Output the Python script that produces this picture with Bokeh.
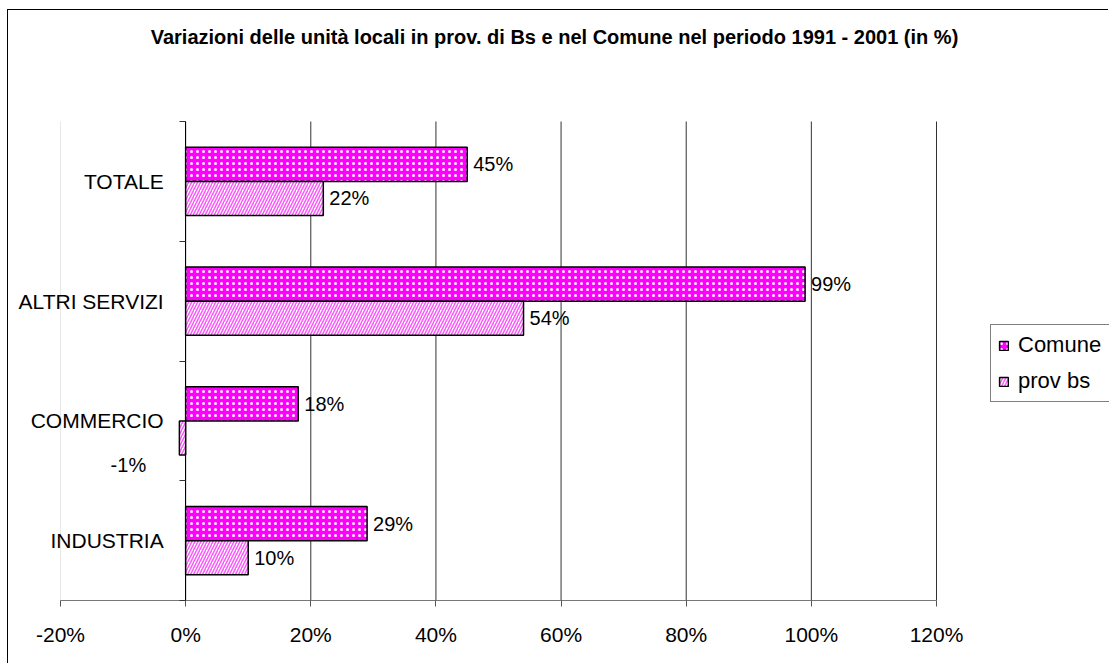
from bokeh.plotting import figure
from bokeh.models import ColumnDataSource, FixedTicker, Legend, LegendItem, Range1d
from bokeh.core.properties import value
from bokeh.embed import file_html
from bokeh.resources import INLINE

# ---- data ----
categories = ["INDUSTRIA", "COMMERCIO", "ALTRI SERVIZI", "TOTALE"]
comune = [29, 18, 99, 45]
prov_bs = [10, -1, 54, 22]
x_ticks = [-20, 0, 20, 40, 60, 80, 100, 120]
x_tick_labels = ["-20%", "0%", "20%", "40%", "60%", "80%", "100%", "120%"]
title_text = "Variazioni delle unità locali in prov. di Bs e nel Comune nel periodo 1991 - 2001 (in %)"

FONT = "Liberation Sans"

# ---- layout (pixels) ----
W, H = 1101, 654                 # canvas size
PLOT_L, PLOT_R = 52, 928         # pixel span of the value axis
PLOT_T, PLOT_B = 111, 590        # pixel span of the category axis
X_MIN, X_MAX = x_ticks[0], x_ticks[-1]
Y_MIN, Y_MAX = -0.5, len(categories) - 0.5
sx = (PLOT_R - PLOT_L) / (X_MAX - X_MIN)
sy = (PLOT_B - PLOT_T) / (Y_MAX - Y_MIN)
x_lo = X_MIN - PLOT_L / sx
x_hi = X_MAX + (W - PLOT_R) / sx
y_hi = Y_MAX + PLOT_T / sy
y_lo = Y_MIN - (H - PLOT_B) / sy

BAR_H = 0.285
pos = list(range(len(categories)))
y_com = [p_ + BAR_H / 2 for p_ in pos]
y_prov = [p_ - BAR_H / 2 for p_ in pos]

p = figure(width=W, height=H, output_backend="svg", toolbar_location=None,
           x_range=Range1d(x_lo, x_hi), y_range=Range1d(y_lo, y_hi),
           min_border=0, min_border_left=0, min_border_right=0,
           min_border_top=0, min_border_bottom=0)
p.title.visible = False
p.styles = {"margin-left": "7px", "margin-top": "9px",
            "border-left": "1px solid black", "border-top": "1px solid black"}
p.outline_line_color = None
p.background_fill_color = "white"
p.border_fill_color = "white"
p.xgrid.visible = False
p.ygrid.visible = False

# vertical grid lines at the value ticks, spanning the category extent
grid_x = [t for t in x_ticks if t > X_MIN]
p.segment(x0=grid_x, y0=[Y_MIN] * len(grid_x), x1=grid_x, y1=[Y_MAX] * len(grid_x),
          line_color="#333333", line_width=1)
p.segment(x0=[X_MIN], y0=[Y_MIN], x1=[X_MIN], y1=[Y_MAX], line_color="#e8e8e8", line_width=1)

# x axis (value axis)
p.xaxis.fixed_location = Y_MIN
p.xaxis.bounds = (X_MIN, X_MAX)
p.xaxis.ticker = FixedTicker(ticks=x_ticks)
p.xaxis.major_label_overrides = {t: l for t, l in zip(x_ticks, x_tick_labels)}
p.xaxis.major_label_text_font = FONT
p.xaxis.major_label_text_font_size = "21px"
p.xaxis.major_label_text_color = "black"
p.xaxis.major_label_standoff = 16
p.xaxis.axis_line_color = "#777777"
p.xaxis.major_tick_line_color = "#555555"
p.xaxis.major_tick_out = 6
p.xaxis.major_tick_in = 0
p.xaxis.minor_tick_line_color = None

# y axis at x=0: category labels at centres, ticks at boundaries
boundaries = [p_ - 0.5 for p_ in pos] + [Y_MAX]
p.yaxis.fixed_location = 0
p.yaxis.bounds = (Y_MIN, Y_MAX)
p.yaxis.ticker = FixedTicker(ticks=pos, minor_ticks=boundaries)
p.yaxis.major_label_overrides = {i: c for i, c in zip(pos, categories)}
p.yaxis.major_label_text_font = FONT
p.yaxis.major_label_text_font_size = "21px"
p.yaxis.major_label_text_color = "black"
p.yaxis.major_label_standoff = 16
p.yaxis.axis_line_color = "black"
p.yaxis.major_tick_line_color = None
p.yaxis.major_tick_out = 0
p.yaxis.major_tick_in = 0
p.yaxis.minor_tick_line_color = "#333333"
p.yaxis.minor_tick_out = 6
p.yaxis.minor_tick_in = 0

# bars
r_com = p.hbar(y=y_com, left=0, right=comune, height=BAR_H,
               fill_color="#FF00FF", line_color="black", line_width=1.5,
               hatch_pattern="dot", hatch_color="white", hatch_scale=6, hatch_weight=1.2)
r_prov = p.hbar(y=y_prov, left=0, right=prov_bs, height=BAR_H,
                fill_color="white", line_color="black", line_width=1.5,
                hatch_pattern="right_diagonal_line", hatch_color="#FF55FF",
                hatch_scale=6, hatch_weight=1.5)

# value labels
pos_all = dict(x=[], y=[], t=[])
neg_all = dict(x=[], y=[], t=[])
for ys, vs in ((y_com, comune), (y_prov, prov_bs)):
    for y, v in zip(ys, vs):
        d = pos_all if v >= 0 else neg_all
        d["x"].append(v); d["y"].append(y); d["t"].append(f"{v}%")

p.text(x="x", y="y", text="t", source=ColumnDataSource(pos_all), x_offset=6,
       text_align="left", text_baseline="middle", text_font=value(FONT),
       text_font_size="20px", text_color="black")
p.text(x="x", y="y", text="t", source=ColumnDataSource(neg_all), x_offset=-51, y_offset=27,
       text_align="center", text_baseline="middle", text_font=value(FONT),
       text_font_size="20px", text_color="black")

# title (centred over the whole chart)
title_px_x, title_px_y = 546, 26
p.text(x=[x_lo + title_px_x / sx], y=[y_hi - title_px_y / sy], text=[title_text],
       text_align="center", text_baseline="middle", text_font=value(FONT),
       text_font_style="bold", text_font_size="20px", text_color="black")

# legend
legend = Legend(items=[LegendItem(label="Comune", renderers=[r_com]),
                       LegendItem(label="prov bs", renderers=[r_prov])],
                location=(982, 262), orientation="vertical",
                border_line_color="black", border_line_width=1,
                background_fill_color="white", background_fill_alpha=1,
                label_text_font=FONT, label_text_font_size="22px", label_text_color="black",
                glyph_width=11, glyph_height=11, label_standoff=9, label_width=95,
                padding=7, spacing=10, margin=0)
p.add_layout(legend, "center")

open("out.html", "w").write(file_html(p, INLINE))
